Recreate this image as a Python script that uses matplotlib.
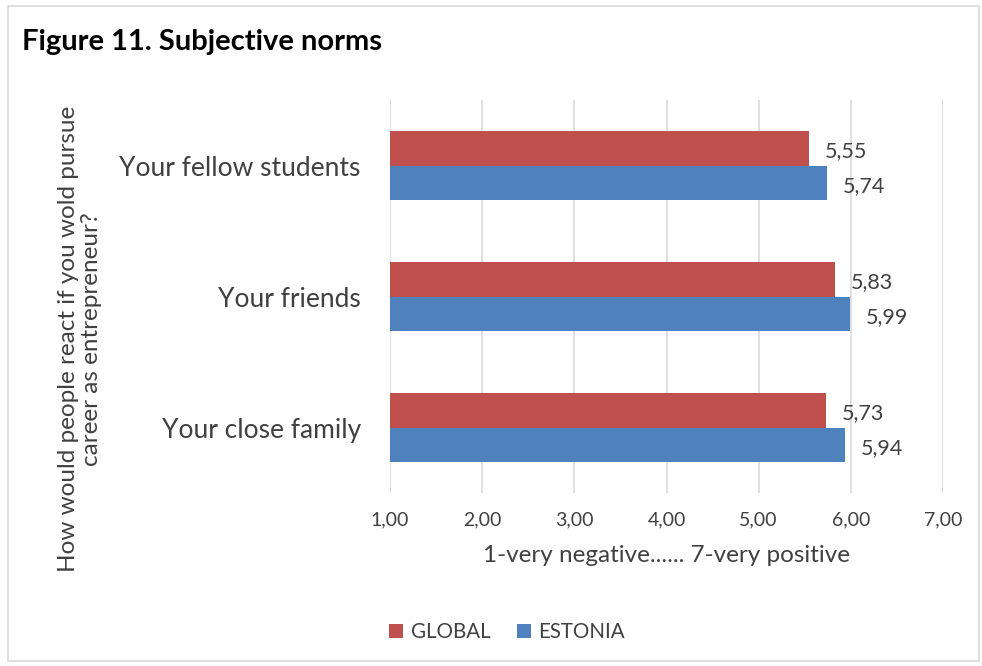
import numpy as np
import matplotlib.pyplot as plt
from matplotlib.patches import Rectangle

plt.rcParams['font.family'] = ['Lato', 'DejaVu Sans']

categories = ['Your fellow students', 'Your friends', 'Your close family']
global_vals = [5.55, 5.83, 5.73]
estonia_vals = [5.74, 5.99, 5.94]
xticks = [1, 2, 3, 4, 5, 6, 7]
xtick_labels = ['1,00', '2,00', '3,00', '4,00', '5,00', '6,00', '7,00']

red = '#C0504D'
blue = '#4F81BD'
txt = '#404040'

fig = plt.figure(figsize=(9.82, 6.66), dpi=100)
fig.patches.append(Rectangle((8/982, 1 - 661/666), 971/982, 655/666,
                             transform=fig.transFigure, fill=False,
                             edgecolor='#d9d9d9', lw=1.2))

ax = fig.add_axes([390/982, 1 - 493/666, 553/982, 393/666])

y = np.arange(len(categories))
h = 0.26
ax.barh(y - h/2, [v - 1 for v in global_vals], height=h, left=1,
        color=red, label='GLOBAL', zorder=3)
ax.barh(y + h/2, [v - 1 for v in estonia_vals], height=h, left=1,
        color=blue, label='ESTONIA', zorder=3)

for i in range(len(categories)):
    ax.text(global_vals[i] + 0.17, y[i] - h/2 + 0.02, f'{global_vals[i]:.2f}'.replace('.', ','),
            va='center', ha='left', fontsize=15.5, color=txt)
    ax.text(estonia_vals[i] + 0.17, y[i] + h/2 + 0.03, f'{estonia_vals[i]:.2f}'.replace('.', ','),
            va='center', ha='left', fontsize=15.5, color=txt)

ax.set_xlim(1, 7)
ax.set_ylim(len(categories) - 0.5, -0.5)
ax.set_xticks(xticks)
ax.set_xticklabels(xtick_labels, fontsize=14, color=txt)
ax.set_yticks(y)
ax.set_yticklabels(categories, fontsize=19, color=txt)
ax.tick_params(axis='both', length=0)
ax.tick_params(axis='x', pad=13)
ax.tick_params(axis='y', pad=21)
ax.grid(axis='x', color='#d9d9d9', lw=1.2, zorder=0)
for s in ax.spines.values():
    s.set_visible(False)

ax.set_xlabel('1-very negative...... 7-very positive', fontsize=17.5, color=txt, labelpad=12)

fig.text(80/982, 1 - 339/666, 'How would people react if you wold pursue\ncareer as entrepreneur?',
         rotation=90, ha='center', va='center', fontsize=17.5, color=txt, linespacing=1.1)

fig.text(22/982, 1 - 42/666, 'Figure 11. Subjective norms', fontsize=21,
         fontweight='bold', color='black', ha='left', va='center')

fig.legend(loc='center', bbox_to_anchor=(507/982, 1 - 632/666), ncol=2, frameon=False,
           fontsize=14.8, handlelength=0.7, handleheight=0.7, columnspacing=1.3,
           handletextpad=0.35, labelcolor=txt)

fig.savefig('out.png', dpi=100)
